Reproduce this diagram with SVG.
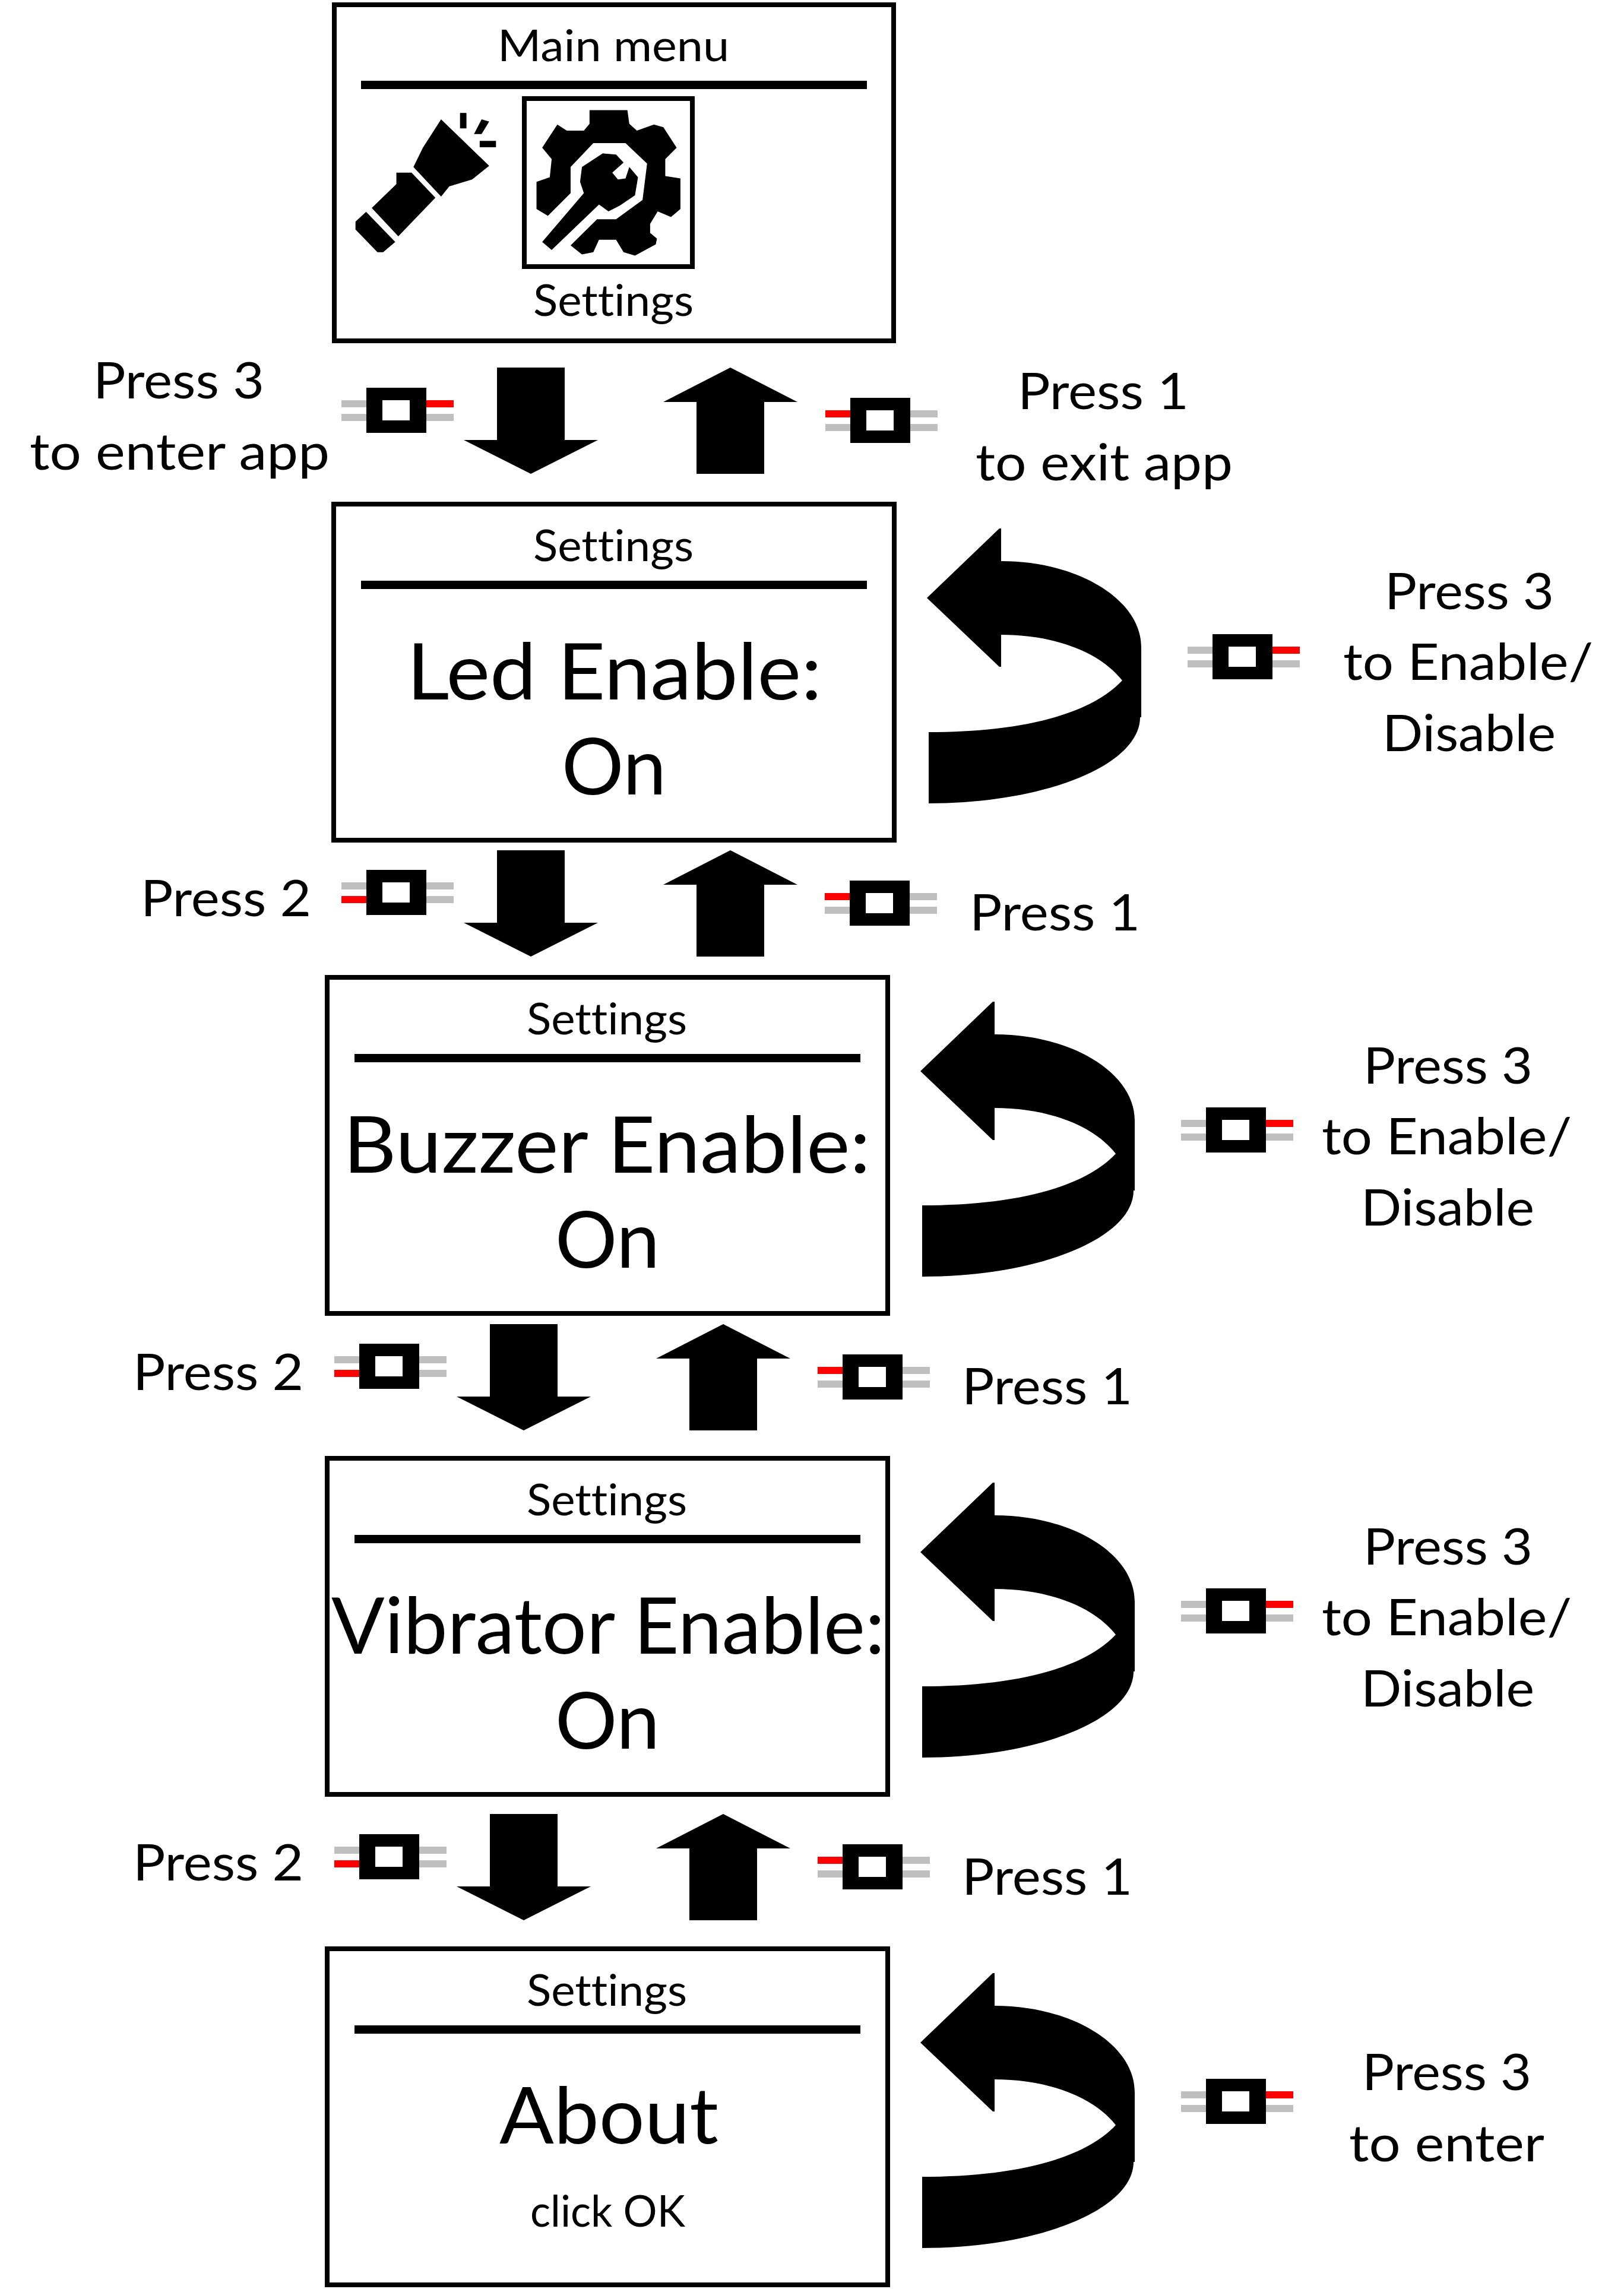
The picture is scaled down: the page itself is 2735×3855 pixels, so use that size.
<svg xmlns="http://www.w3.org/2000/svg" width="2735" height="3855" viewBox="0 0 2735 3855">
<style>
text{font-family:"Lato","Carlito","Open Sans",sans-serif;fill:#000;font-variant-ligatures:none}
.l{font-size:85px}.b{font-size:131px}.s{font-size:73px}
.box{fill:#fff;stroke:#000;stroke-width:8}
.sep{fill:#000}
.blk{fill:#000}.wht{fill:#fff}.gry{fill:#bfbfbf}.red{fill:#f00}
</style>
<defs>
<g id="swR"><rect class="gry" x="-42" y="21" width="189" height="12"/><rect class="gry" x="-42" y="44" width="189" height="12"/><rect class="red" x="101" y="21" width="46" height="12"/><rect class="blk" width="101" height="76"/><rect class="wht" x="27" y="21" width="46" height="34"/></g>
<g id="swL"><rect class="gry" x="-42" y="21" width="189" height="12"/><rect class="gry" x="-42" y="44" width="189" height="12"/><rect class="red" x="-42" y="21" width="42" height="12"/><rect class="blk" width="101" height="76"/><rect class="wht" x="27" y="21" width="46" height="34"/></g>
<g id="swL2"><rect class="gry" x="-42" y="21" width="189" height="12"/><rect class="gry" x="-42" y="44" width="189" height="12"/><rect class="red" x="-42" y="44" width="42" height="12"/><rect class="blk" width="101" height="76"/><rect class="wht" x="27" y="21" width="46" height="34"/></g>
<path id="down" class="blk" d="M837 619H951V741H1007L894 798L781 741H837Z"/>
<path id="up" class="blk" d="M1230 619L1343 677H1287V798H1173V677H1117Z"/>
<path id="uturn" class="blk" d="M1683 890L1561 1007L1683 1123H1686V1069C1770 1069 1850 1095 1890 1146C1830 1210 1700 1233 1564 1233V1353C1761 1353 1920 1288 1920 1208H1922V1090C1922 1010 1816 945 1686 945V890Z"/>
</defs>

<g id="connectors">
<use href="#down"/><use href="#up"/>
<use href="#down" y="813"/><use href="#up" y="813"/>
<use href="#down" x="-12" y="1611"/><use href="#up" x="-12" y="1611"/>
<use href="#down" x="-12" y="2436"/><use href="#up" x="-12" y="2436"/>
<use href="#uturn"/>
<use href="#uturn" x="-11" y="797"/>
<use href="#uturn" x="-11" y="1607"/>
<use href="#uturn" x="-11" y="2433"/>
</g>

<g id="screen-main">
<rect class="box" x="563" y="8" width="942" height="566"/>
<rect class="sep" x="608" y="136" width="852" height="14"/>
<text class="s" x="838" y="103" textLength="390" lengthAdjust="spacingAndGlyphs">Main menu</text>
<g id="icon-flashlight" transform="translate(540 0) scale(.6378 .3827)">
<path class="blk" d="M318 525L445 730L400 790L340 820L318 865L245 735L270 650Z"/>
<path class="blk" d="M200 760H240L303 870L205 1040L135 915L200 810Z"/>
<path class="blk" d="M120 932L197 1065L165 1110H150L92 1010V975Z"/>
<path class="blk" d="M368 497H385V565H368Z"/>
<path class="blk" d="M425 525L445 535L425 590H405Z"/>
<path class="blk" d="M420 620H463V648H420Z"/>
</g>
<rect class="box" x="883" y="166" width="283" height="283"/>
<g id="icon-settings" transform="translate(540 0) scale(.6378 .3827)">
<path class="blk" d="M710 485H810L815 545L835 575L880 548L905 560L940 650L910 700V775L950 785V920L925 955L890 930L870 985V1025L888 1050L885 1075L830 1125L800 1110L780 1055H735L720 1110L690 1120L660 1080L730 965H780L850 880L862 720L805 630H720L660 735L660 850L600 950L570 920V800L605 780L610 700L585 650L625 548L650 575H695L710 545Z"/>
<path class="blk" d="M745 675L780 680L800 715L770 760L785 790L805 785L815 735L838 780L830 860L790 905L760 930L735 900L610 1100L585 1065L695 850L685 800L690 735Z"/>
</g>
<text class="s" x="898" y="532" textLength="270" lengthAdjust="spacingAndGlyphs">Settings</text>
</g>

<g id="screen-led">
<rect class="box" x="562" y="849" width="944" height="566"/>
<rect class="sep" x="608" y="978" width="852" height="14"/>
<text class="s" x="898" y="945" textLength="270" lengthAdjust="spacingAndGlyphs">Settings</text>
<text class="b" x="685" y="1178" textLength="699" lengthAdjust="spacingAndGlyphs">Led Enable:</text>
<text class="b" x="946" y="1338" textLength="176" lengthAdjust="spacingAndGlyphs">On</text>
</g>

<g id="screen-buzzer">
<rect class="box" x="551" y="1646" width="944" height="566"/>
<rect class="sep" x="597" y="1775" width="852" height="14"/>
<text class="s" x="887" y="1742" textLength="270" lengthAdjust="spacingAndGlyphs">Settings</text>
<text class="b" x="578" y="1975" textLength="888" lengthAdjust="spacingAndGlyphs">Buzzer Enable:</text>
<text class="b" x="935" y="2135" textLength="176" lengthAdjust="spacingAndGlyphs">On</text>
</g>

<g id="screen-vibrator">
<rect class="box" x="551" y="2456" width="944" height="566"/>
<rect class="sep" x="597" y="2585" width="852" height="14"/>
<text class="s" x="887" y="2552" textLength="270" lengthAdjust="spacingAndGlyphs">Settings</text>
<text class="b" x="558" y="2785" textLength="932" lengthAdjust="spacingAndGlyphs">Vibrator Enable:</text>
<text class="b" x="935" y="2945" textLength="176" lengthAdjust="spacingAndGlyphs">On</text>
</g>

<g id="screen-about">
<rect class="box" x="551" y="3282" width="944" height="566"/>
<rect class="sep" x="597" y="3411" width="852" height="14"/>
<text class="s" x="887" y="3378" textLength="270" lengthAdjust="spacingAndGlyphs">Settings</text>
<text class="b" x="841" y="3610" textLength="369" lengthAdjust="spacingAndGlyphs">About</text>
<text class="s" x="893" y="3750" textLength="261" lengthAdjust="spacingAndGlyphs">click OK</text>
</g>

<g id="label-enter-app">
<use href="#swR" x="617" y="653"/>
<text class="l" x="157" y="671" textLength="288" lengthAdjust="spacingAndGlyphs">Press 3</text>
<text class="l" x="50" y="791" textLength="505" lengthAdjust="spacingAndGlyphs">to enter app</text>
</g>
<g id="label-exit-app">
<use href="#swL" x="1432" y="670"/>
<text class="l" x="1714" y="689" textLength="288" lengthAdjust="spacingAndGlyphs">Press 1</text>
<text class="l" x="1643" y="809" textLength="433" lengthAdjust="spacingAndGlyphs">to exit app</text>
</g>

<g id="label-press2-a"><use href="#swL2" x="617" y="1465"/><text class="l" x="237" y="1543" textLength="287" lengthAdjust="spacingAndGlyphs">Press 2</text></g>
<g id="label-press1-a"><use href="#swL" x="1431" y="1483"/><text class="l" x="1633" y="1567" textLength="287" lengthAdjust="spacingAndGlyphs">Press 1</text></g>
<g id="label-press2-b"><use href="#swL2" x="605" y="2263"/><text class="l" x="224" y="2341" textLength="287" lengthAdjust="spacingAndGlyphs">Press 2</text></g>
<g id="label-press1-b"><use href="#swL" x="1419" y="2281"/><text class="l" x="1620" y="2365" textLength="287" lengthAdjust="spacingAndGlyphs">Press 1</text></g>
<g id="label-press2-c"><use href="#swL2" x="605" y="3089"/><text class="l" x="224" y="3167" textLength="287" lengthAdjust="spacingAndGlyphs">Press 2</text></g>
<g id="label-press1-c"><use href="#swL" x="1419" y="3106"/><text class="l" x="1620" y="3191" textLength="287" lengthAdjust="spacingAndGlyphs">Press 1</text></g>

<g id="label-toggle-led">
<use href="#swR" x="2042" y="1068"/>
<text class="l" x="2332" y="1026" textLength="285" lengthAdjust="spacingAndGlyphs">Press 3</text>
<text class="l" x="2262" y="1145" textLength="421" lengthAdjust="spacingAndGlyphs">to Enable/</text>
<text class="l" x="2328" y="1265" textLength="292" lengthAdjust="spacingAndGlyphs">Disable</text>
</g>
<g id="label-toggle-buzzer">
<use href="#swR" x="2031" y="1865"/>
<text class="l" x="2296" y="1825" textLength="285" lengthAdjust="spacingAndGlyphs">Press 3</text>
<text class="l" x="2226" y="1944" textLength="421" lengthAdjust="spacingAndGlyphs">to Enable/</text>
<text class="l" x="2292" y="2064" textLength="292" lengthAdjust="spacingAndGlyphs">Disable</text>
</g>
<g id="label-toggle-vibrator">
<use href="#swR" x="2031" y="2675"/>
<text class="l" x="2296" y="2635" textLength="285" lengthAdjust="spacingAndGlyphs">Press 3</text>
<text class="l" x="2226" y="2754" textLength="421" lengthAdjust="spacingAndGlyphs">to Enable/</text>
<text class="l" x="2292" y="2874" textLength="292" lengthAdjust="spacingAndGlyphs">Disable</text>
</g>
<g id="label-enter">
<use href="#swR" x="2031" y="3501"/>
<text class="l" x="2294" y="3520" textLength="285" lengthAdjust="spacingAndGlyphs">Press 3</text>
<text class="l" x="2272" y="3640" textLength="329" lengthAdjust="spacingAndGlyphs">to enter</text>
</g>
</svg>
